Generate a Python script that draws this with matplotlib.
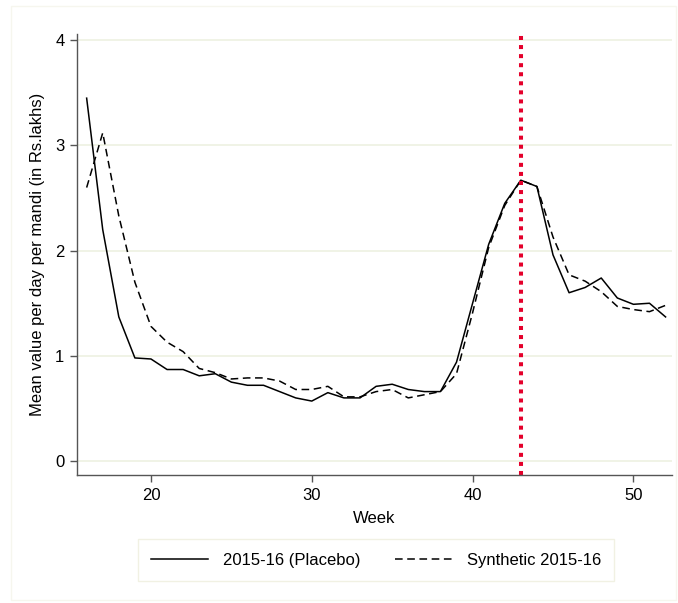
import matplotlib
matplotlib.use('Agg')
import matplotlib.pyplot as plt
from matplotlib.patches import Rectangle

plt.rcParams.update({'font.family': ['Liberation Sans', 'DejaVu Sans'], 'font.size': 11.5})

weeks = list(range(16, 53))

placebo = [3.45, 2.20, 1.37, 0.98, 0.97, 0.87, 0.87, 0.81, 0.83, 0.75,
           0.72, 0.72, 0.66, 0.60, 0.57, 0.65, 0.60, 0.60, 0.71, 0.73,
           0.68, 0.66, 0.66, 0.94, 1.50, 2.06, 2.45, 2.67, 2.61, 1.96,
           1.60, 1.65, 1.74, 1.55, 1.49, 1.50, 1.37]

synthetic = [2.60, 3.12, 2.33, 1.70, 1.28, 1.13, 1.04, 0.88, 0.84, 0.78,
             0.79, 0.79, 0.76, 0.68, 0.68, 0.71, 0.61, 0.61, 0.66, 0.68,
             0.60, 0.63, 0.66, 0.83, 1.41, 2.03, 2.43, 2.67, 2.61, 2.13,
             1.77, 1.71, 1.61, 1.47, 1.44, 1.42, 1.48]

treat_week = 43

fig = plt.figure(figsize=(6.78, 6.03), dpi=100)
fig.patches.append(Rectangle((11/678, 3/603), 665/678, 594/603, transform=fig.transFigure,
                             fill=False, edgecolor='#f6f6ee', lw=1))

# axes box: left 77px, right 672px, top 34px, bottom 475px
ax = fig.add_axes([77/678, 1 - 475/603, (672 - 77)/678, (475 - 34)/603])

ax.plot(weeks, placebo, color='black', lw=1.1, label='2015-16 (Placebo)')
ax.plot(weeks, synthetic, color='black', lw=1.1, linestyle=(0, (5, 3)), label='Synthetic 2015-16')
ax.axvline(treat_week, color='#e4002b', lw=2.9, linestyle=(0, (1, 1.25)), dash_capstyle='butt')

ax.set_xlim(15.4, 52.4)
ax.set_ylim(-0.133, 4.06)
ax.set_xticks([20, 30, 40, 50])
ax.set_yticks([0, 1, 2, 3, 4])
ax.yaxis.grid(True, color='#eef1e2', lw=1.2)
ax.set_axisbelow(True)

for s in ['top', 'right']:
    ax.spines[s].set_visible(False)
for s in ['left', 'bottom']:
    ax.spines[s].set_color('#555555')
    ax.spines[s].set_linewidth(1)
ax.tick_params(direction='out', length=5, width=1, color='#555555', labelsize=12, pad=4)

ax.set_xlabel('Week', fontsize=12, labelpad=6)
ax.set_ylabel('Mean value per day per mandi (in Rs.lakhs)', fontsize=12, labelpad=7)

leg = fig.legend(loc='center', bbox_to_anchor=(376/678, 1 - 560/603), ncol=2, frameon=True,
                 fancybox=False, edgecolor='#eeeedd', handlelength=3.4, columnspacing=2.1,
                 handletextpad=0.9, borderpad=0.8, fontsize=12)
leg.get_frame().set_linewidth(1)

fig.savefig('out.png', dpi=100, facecolor='white')
